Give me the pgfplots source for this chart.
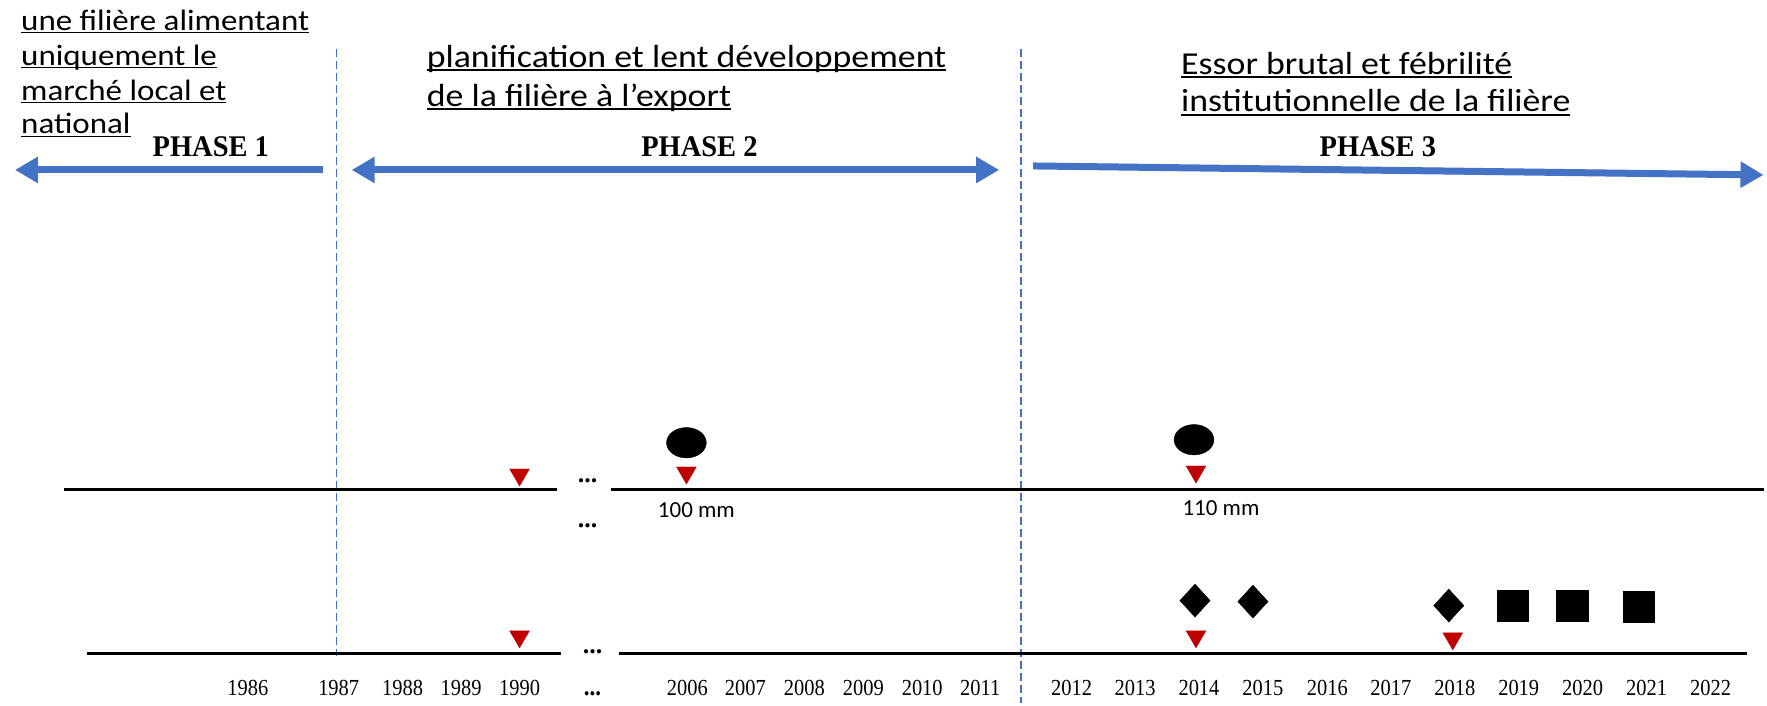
\documentclass[border=0pt]{standalone}
\usepackage{pgfplots}
\pgfplotsset{compat=1.18}
\usetikzlibrary{arrows.meta}
\usepackage{fontspec}
\setmainfont{Liberation Serif}
\newfontfamily\corbel[FakeStretch=1.12]{Carlito}
\newfontfamily\calib{Carlito}
\newfontfamily\yearf[FakeStretch=0.89]{Liberation Serif}
\newfontfamily\phasef[FakeStretch=0.95]{Liberation Serif}
\definecolor{pblue}{HTML}{4472C4}
\definecolor{tred}{HTML}{C00000}
\newcommand\ul[1]{\setbox0=\hbox{#1}\rlap{\rule[-0.11em]{\wd0}{0.055em}}\box0}
\newcommand\tdots{.\kern0pt.\kern0pt.}
\newcommand\dotlabel{{\fontsize{26bp}{30bp}\selectfont\bfseries\tdots\vphantom{0}}}
\begin{document}
\begin{tikzpicture}
\begin{axis}[
  scale only axis, width=1767bp, height=706bp,
  xmin=0, xmax=1767, ymin=0, ymax=706,
  clip=false,
  axis line style={draw=none},
  major tick length=0pt,
  ytick=\empty,
  xtick={248,339,403,461.5,520,593,688,746,805,864,923,981,1072.5,1136,1200,1264,1328.5,1392,1456,1520,1584,1648,1712},
  xticklabels={1986,1987,1988,1989,1990,\dotlabel,2006,2007,2008,2009,2010,2011,2012,2013,2014,2015,2016,2017,2018,2019,2020,2021,2022},
  xticklabel style={anchor=center, yshift=18bp, font=\yearf\fontsize{23bp}{27bp}\selectfont, inner sep=0pt},
]
% bounding frame
\addplot[draw=none, forget plot] coordinates {(0,0) (1767,706)};
% phase separators
\addplot[pblue, line width=1.3bp, dash pattern=on 8bp off 4bp] coordinates {(337,657) (337,50)};
\addplot[pblue, line width=1.3bp, dash pattern=on 8bp off 4bp] coordinates {(1022,657) (1022,3)};
% phase arrows
\addplot[pblue, line width=7bp, {Triangle[length=23bp,width=25bp]}-] coordinates {(15,536) (323,536)};
\addplot[pblue, line width=7bp, {Triangle[length=23bp,width=25bp]}-{Triangle[length=23bp,width=25bp]}] coordinates {(352,536) (1000,536)};
\addplot[pblue, line width=7bp, -{Triangle[length=23bp,width=25bp]}] coordinates {(1034,540) (1765,531)};
% timelines
\addplot[black, line width=3.2bp] coordinates {(64,216) (557,216)};
\addplot[black, line width=3.2bp] coordinates {(612,216) (1765,216)};
\addplot[black, line width=3.2bp] coordinates {(87,52) (561,52)};
\addplot[black, line width=3.2bp] coordinates {(620,52) (1748,52)};
% red triangles
\addplot[only marks, mark=triangle*, mark size=11.5bp, mark options={rotate=180, fill=tred, draw=tred, line width=0.2bp}] coordinates {(520,231) (687,233) (1197,234) (520,69) (1197,69) (1454,67)};
% ellipses
\addplot[only marks, mark=*, mark size=15.2bp, mark options={xscale=1.31, fill=black, draw=black}] coordinates {(687,263) (1195,266)};
% diamonds
\addplot[only marks, mark=diamond*, mark size=16.5bp, mark options={xscale=1.22, fill=black, draw=black}] coordinates {(1196,105) (1254,104) (1450,100)};
% squares
\addplot[only marks, mark=square*, mark size=15.75bp, mark options={fill=black, draw=black}] coordinates {(1514,100) (1573.5,100) (1640,99)};
% texts
\node[anchor=base west, inner sep=0pt] at (axis cs:21,676) {\corbel\fontsize{29.5bp}{36bp}\selectfont\ul{une filière alimentant}};
\node[anchor=base west, inner sep=0pt] at (axis cs:21,641) {\corbel\fontsize{29.5bp}{36bp}\selectfont\ul{uniquement le}};
\node[anchor=base west, inner sep=0pt] at (axis cs:21,606) {\corbel\fontsize{29.5bp}{36bp}\selectfont\ul{marché local et}};
\node[anchor=base west, inner sep=0pt] at (axis cs:21,572) {\corbel\fontsize{29.5bp}{36bp}\selectfont\ul{national}};
\node[anchor=base west, inner sep=0pt] at (axis cs:427,639) {\corbel\fontsize{32bp}{38bp}\selectfont\ul{planification et lent développement}};
\node[anchor=base west, inner sep=0pt] at (axis cs:427,600) {\corbel\fontsize{32bp}{38bp}\selectfont\ul{de la filière à l’export}};
\node[anchor=base west, inner sep=0pt] at (axis cs:1182,632) {\corbel\fontsize{32bp}{38bp}\selectfont\ul{Essor brutal et fébrilité}};
\node[anchor=base west, inner sep=0pt] at (axis cs:1182,594) {\corbel\fontsize{32bp}{38bp}\selectfont\ul{institutionnelle de la filière}};
\node[anchor=base, inner sep=0pt] at (axis cs:211,549) {\phasef\bfseries\fontsize{30bp}{36bp}\selectfont PHASE 1};
\node[anchor=base, inner sep=0pt] at (axis cs:700,549) {\phasef\bfseries\fontsize{30bp}{36bp}\selectfont PHASE 2};
\node[anchor=base, inner sep=0pt] at (axis cs:1379,549) {\phasef\bfseries\fontsize{30bp}{36bp}\selectfont PHASE 3};
\node[anchor=base, inner sep=0pt] at (axis cs:697,188) {\calib\fontsize{23bp}{28bp}\selectfont 100 mm};
\node[anchor=base, inner sep=0pt] at (axis cs:1222,190) {\calib\fontsize{23bp}{28bp}\selectfont 110 mm};
\node[anchor=base, inner sep=0pt] at (axis cs:588,223) {\bfseries\fontsize{26bp}{30bp}\selectfont\tdots};
\node[anchor=base, inner sep=0pt] at (axis cs:588,178) {\bfseries\fontsize{26bp}{30bp}\selectfont\tdots};
\node[anchor=base, inner sep=0pt] at (axis cs:593,52) {\bfseries\fontsize{26bp}{30bp}\selectfont\tdots};
\end{axis}
\end{tikzpicture}
\end{document}
